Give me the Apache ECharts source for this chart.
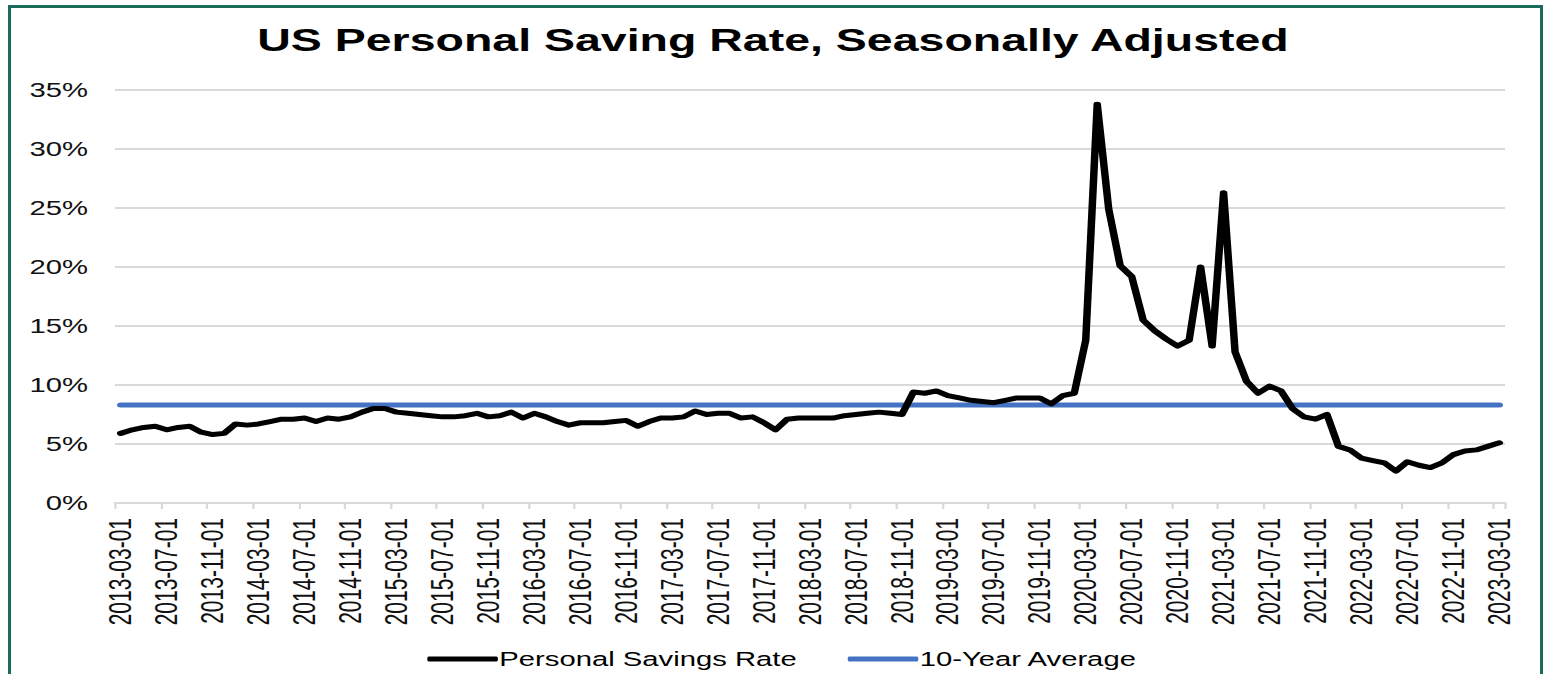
<!DOCTYPE html>
<html>
<head>
<meta charset="utf-8">
<script src="https://cdn.jsdelivr.net/npm/echarts@6/dist/echarts.min.js"></script>
<style>
    html, body { margin: 0; background: #fff; overflow: hidden; }
    #frame { position: absolute; left: 8px; top: 5px; width: 1529px; height: 720px; border: 3px solid #1b6a5a; }
    /* reference picture is stretched sideways, so draw narrow and stretch */
    #chart { position: absolute; left: 0; top: 0; width: 1031px; height: 674px; transform: scaleX(1.4995); transform-origin: 0 0; }
</style>
</head>
<body>
<div id="frame"></div>
<div id="chart"></div>
<script>
//月份 2013-03 ~ 2023-03
var startYear = 2013, startMonth = 3, monthCount = 121;

//个人储蓄率 (%)
var savingRate = [
    5.9, 6.2, 6.4, 6.5, 6.2, 6.4, 6.5, 6.0, 5.8, 5.9,
    6.7, 6.6, 6.7, 6.9, 7.1, 7.1, 7.2, 6.9, 7.2, 7.1,
    7.3, 7.7, 8.0, 8.0, 7.7, 7.6, 7.5, 7.4, 7.3, 7.3,
    7.4, 7.6, 7.3, 7.4, 7.7, 7.2, 7.6, 7.3, 6.9, 6.6,
    6.8, 6.8, 6.8, 6.9, 7.0, 6.5, 6.9, 7.2, 7.2, 7.3,
    7.8, 7.5, 7.6, 7.6, 7.2, 7.3, 6.8, 6.2, 7.1, 7.2,
    7.2, 7.2, 7.2, 7.4, 7.5, 7.6, 7.7, 7.6, 7.5, 9.4,
    9.3, 9.5, 9.1, 8.9, 8.7, 8.6, 8.5, 8.7, 8.9, 8.9,
    8.9, 8.4, 9.1, 9.3, 13.8, 33.8, 24.9, 20.1, 19.2, 15.5,
    14.6, 13.9, 13.3, 13.8, 20.0, 13.3, 26.3, 12.8, 10.3, 9.3,
    9.9, 9.5, 8.0, 7.3, 7.1, 7.5, 4.8, 4.5, 3.8, 3.6,
    3.4, 2.7, 3.5, 3.2, 3.0, 3.4, 4.1, 4.4, 4.5, 4.8,
    5.1
];

//10年平均
var tenYearAvg = 8.3;

var yTicks = { min: 0, max: 35, step: 5 };

var months = [];
for (var i = 0; i < monthCount; i++) {
    var m = startMonth - 1 + i;
    var yy = startYear + Math.floor(m / 12);
    var mm = (m % 12) + 1;
    months.push(yy + '-' + (mm < 10 ? '0' + mm : mm) + '-01');
}
var avgData = months.map(function () { return tenYearAvg; });

var fontFamily = '"Liberation Sans", Arial, sans-serif';

var myChart = echarts.init(document.getElementById('chart'), null, { renderer: 'svg' });
var option = {
    animation: false,
    backgroundColor: 'transparent',
    textStyle: { fontFamily: fontFamily },
    title: {
        text: 'US Personal Saving Rate, Seasonally Adjusted',
        left: 'center',
        top: 20,
        textStyle: {
            fontFamily: fontFamily,
            fontSize: 31,
            fontWeight: 'bold',
            color: '#000'
        }
    },
    grid: {
        left: 76.7,
        right: 27.3,
        top: 90,
        bottom: 171
    },
    legend: {
        top: 644,
        left: 280,
        itemWidth: 47,
        itemHeight: 5,
        itemGap: 34,
        icon: 'roundRect',
        textStyle: { fontFamily: fontFamily, fontSize: 19.5, color: '#000', padding: [0, 0, 0, -4] },
        data: ['Personal Savings Rate', '10-Year Average']
    },
    xAxis: {
        type: 'category',
        boundaryGap: true,
        data: months,
        axisLine: { show: true, lineStyle: { color: '#d9d9d9', width: 2 } },
        axisTick: { show: true, interval: 3, length: 6, lineStyle: { color: '#d9d9d9', width: 1.5 } },
        axisLabel: {
            interval: 3,
            rotate: 90,
            margin: 15,
            fontSize: 21,
            color: '#111'
        },
        splitLine: { show: false }
    },
    yAxis: {
        type: 'value',
        min: yTicks.min,
        max: yTicks.max,
        interval: yTicks.step,
        axisLine: { show: false },
        axisTick: { show: false },
        axisLabel: {
            formatter: '{value}%',
            fontSize: 19.5,
            margin: 18,
            color: '#111'
        },
        splitLine: { show: true, lineStyle: { color: '#d9d9d9', width: 2 } }
    },
    series: [
        {
            name: 'Personal Savings Rate',
            type: 'line',
            data: savingRate,
            symbol: 'none',
            itemStyle: { color: '#000' },
            lineStyle: { color: '#000', width: 5, cap: 'round', join: 'round' },
            z: 3
        },
        {
            name: '10-Year Average',
            type: 'line',
            data: avgData,
            symbol: 'none',
            itemStyle: { color: '#4472c4' },
            lineStyle: { color: '#4472c4', width: 5, cap: 'round' },
            z: 2
        }
    ]
};
myChart.setOption(option);
</script>
</body>
</html>
